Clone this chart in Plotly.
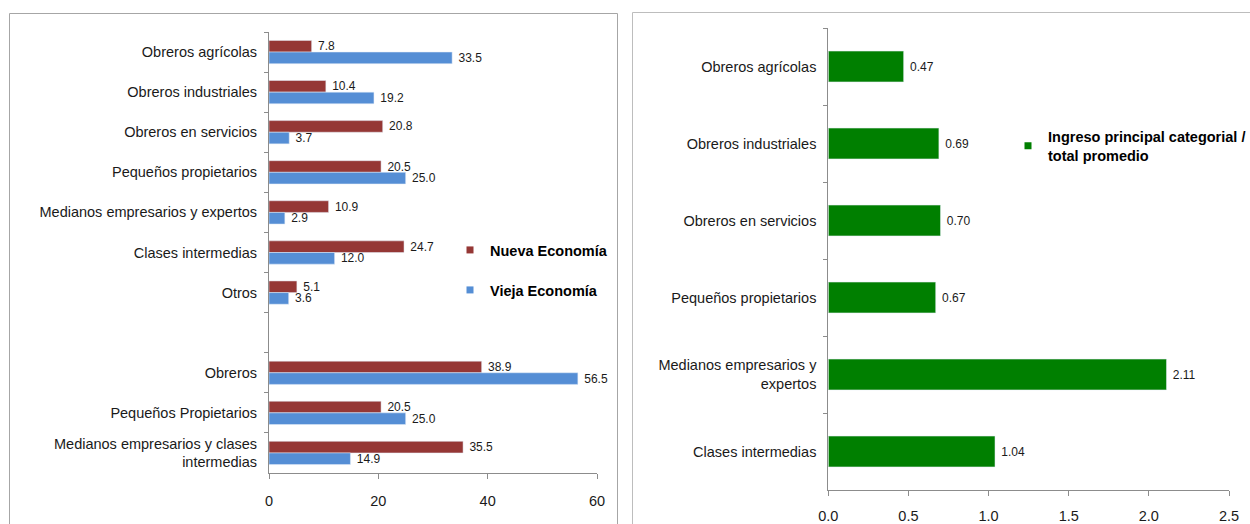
import plotly.graph_objects as go

# Distribución ocupacional (%) en la Nueva y la Vieja Economía
categorias = [
    "Obreros agrícolas",
    "Obreros industriales",
    "Obreros en servicios",
    "Pequeños propietarios",
    "Medianos empresarios y expertos",
    "Clases intermedias",
    "Otros",
    " ",
    "Obreros",
    "Pequeños Propietarios",
    "Medianos empresarios y clases<br>intermedias",
]
nueva_economia = [7.8, 10.4, 20.8, 20.5, 10.9, 24.7, 5.1, None, 38.9, 20.5, 35.5]
vieja_economia = [33.5, 19.2, 3.7, 25.0, 2.9, 12.0, 3.6, None, 56.5, 25.0, 14.9]

# Ingreso principal de cada categoría relativo al promedio total
categorias_ingreso = [
    "Obreros agrícolas",
    "Obreros industriales",
    "Obreros en servicios",
    "Pequeños propietarios",
    "Medianos empresarios y<br>expertos",
    "Clases intermedias",
]
ingreso_relativo = [0.47, 0.69, 0.70, 0.67, 2.11, 1.04]

ticks_izq = [0, 20, 40, 60]
ticks_der = [0.0, 0.5, 1.0, 1.5, 2.0, 2.5]

W, H = 1250, 524
ROJO = "#953735"
AZUL = "#558ED5"
VERDE = "#007F00"
EJE = "#8c8c8c"
TEXTO = "#1a1a1a"
FUENTE = "Liberation Sans, Arial, sans-serif"
NBSP = "\u00a0"


def px_x(v):
    return v / W


def px_y(v):
    return 1 - v / H


fig = go.Figure()

# Panel izquierdo: barras agrupadas
fig.add_trace(go.Bar(
    orientation="h", y=categorias, x=nueva_economia, name="Nueva Economía",
    marker=dict(color=ROJO), texttemplate=NBSP + "%{x:.1f}", textposition="outside",
    textfont=dict(size=12, color=TEXTO), cliponaxis=False, constraintext="none",
    xaxis="x", yaxis="y", showlegend=False, legendgroup="nueva",
))
fig.add_trace(go.Bar(
    orientation="h", y=categorias, x=vieja_economia, name="Vieja Economía",
    marker=dict(color=AZUL), texttemplate=NBSP + "%{x:.1f}", textposition="outside",
    textfont=dict(size=12, color=TEXTO), cliponaxis=False, constraintext="none",
    xaxis="x", yaxis="y", showlegend=False, legendgroup="vieja",
))

# Panel derecho: ingreso relativo
fig.add_trace(go.Bar(
    orientation="h", y=categorias_ingreso, x=ingreso_relativo,
    name="Ingreso principal categorial / total promedio",
    marker=dict(color=VERDE), texttemplate=NBSP + "%{x:.2f}", textposition="outside",
    textfont=dict(size=12, color=TEXTO), cliponaxis=False, constraintext="none",
    xaxis="x2", yaxis="y2", showlegend=False, legendgroup="ingreso", width=0.40,
))

# Claves de leyenda con marcador cuadrado pequeño
for nombre, color, grupo, leyenda, ejes in [
    ("<b>Nueva Economía</b>", ROJO, "nueva", "legend", ("x", "y")),
    ("<b>Vieja Economía</b>", AZUL, "vieja", "legend2", ("x", "y")),
    ("<b>Ingreso principal categorial /<br>total promedio</b>", VERDE, "ingreso", "legend3", ("x2", "y2")),
]:
    fig.add_trace(go.Scatter(
        x=[None], y=[None], mode="markers", name=nombre,
        marker=dict(symbol="square", size=7, color=color),
        legendgroup=grupo, legend=leyenda, xaxis=ejes[0], yaxis=ejes[1],
        showlegend=True,
    ))

eje_x = dict(
    showgrid=False, zeroline=False, showline=True, linecolor=EJE, linewidth=1,
    ticks="outside", ticklen=5, tickcolor=EJE, automargin=False,
    tickfont=dict(size=14.5, color=TEXTO, family=FUENTE),
)
eje_y = dict(
    showgrid=False, zeroline=False, showline=True, linecolor=EJE, linewidth=1,
    ticks="outside", ticklen=4, tickcolor=EJE, tickson="boundaries", automargin=False,
    tickfont=dict(size=14.5, color=TEXTO, family=FUENTE),
    type="category", categoryorder="array",
)

leyenda_base = dict(
    bgcolor="rgba(0,0,0,0)", borderwidth=0, itemwidth=30,
    font=dict(size=14.5, color="#000000", family=FUENTE),
    xanchor="left", yanchor="middle",
)

fig.update_layout(
    width=W, height=H,
    margin=dict(l=0, r=0, t=0, b=0, autoexpand=False),
    paper_bgcolor="white", plot_bgcolor="rgba(0,0,0,0)",
    font=dict(family=FUENTE, color=TEXTO),
    barmode="group",
    xaxis=dict(eje_x, domain=[px_x(269), px_x(597)], range=[0, 60],
               tickvals=ticks_izq, ticktext=[str(t) for t in ticks_izq],
               anchor="y", ticklabelstandoff=10),
    yaxis=dict(eje_y, domain=[px_y(473), px_y(32)], categoryarray=categorias,
               range=[len(categorias) - 0.5, -0.5], anchor="x",
               ticklabelstandoff=8),
    xaxis2=dict(eje_x, domain=[px_x(828.3), px_x(1229)], range=[0, 2.5],
                tickvals=ticks_der, ticktext=[f"{t:.1f}" for t in ticks_der],
                anchor="y2", ticklabelstandoff=8),
    yaxis2=dict(eje_y, domain=[px_y(490), px_y(28)], categoryarray=categorias_ingreso,
                range=[len(categorias_ingreso) - 0.5, -0.5], anchor="x2",
                ticklabelstandoff=8),
    bargap=0.42,
    legend=dict(leyenda_base, x=px_x(450), y=px_y(250)),
    legend2=dict(leyenda_base, x=px_x(450), y=px_y(290)),
    legend3=dict(leyenda_base, x=px_x(1008), y=px_y(146)),
    shapes=[
        dict(type="rect", xref="paper", yref="paper", layer="below",
             x0=px_x(9.5), x1=px_x(617.5), y0=-0.05, y1=px_y(13.5),
             line=dict(color="#a6a6a6", width=1), fillcolor="white"),
        dict(type="rect", xref="paper", yref="paper", layer="below",
             x0=px_x(632.5), x1=1.05, y0=-0.05, y1=px_y(12.5),
             line=dict(color="#bdbdbd", width=1), fillcolor="white"),
    ],
)

fig.write_html("out.html")
